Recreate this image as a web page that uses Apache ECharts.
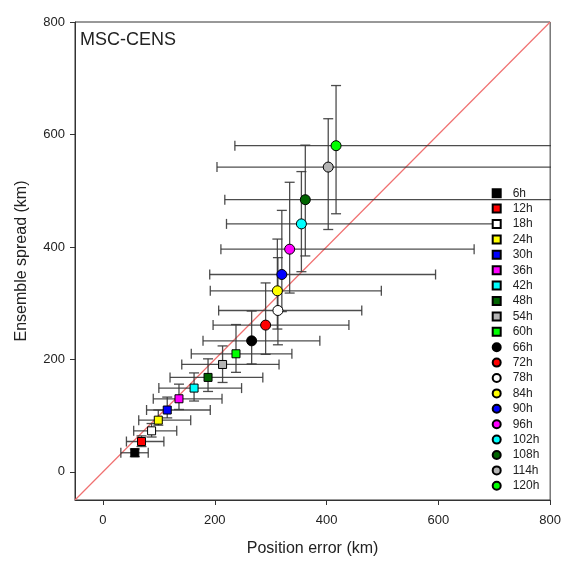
<!DOCTYPE html>
<html>
<head>
<meta charset="utf-8">
<script src="https://cdn.jsdelivr.net/npm/echarts@6/dist/echarts.min.js"></script>
<style>html,body{margin:0;padding:0;background:#fff}#c{width:564px;height:563px}</style>
</head>
<body>
<div id="c"></div>
<script>
// ---- data ----
const hours = ['6h','12h','18h','24h','30h','36h','42h','48h','54h','60h','66h','72h','78h','84h','90h','96h','102h','108h','114h','120h'];
const posError = [57, 69, 87, 99, 115, 136, 163, 188, 214, 238, 266, 291, 313, 312, 320, 334, 355, 362, 403, 417];
const spread   = [34, 54, 73, 92, 110, 130, 149, 168, 191, 210, 233, 261, 287, 322, 351, 396, 441, 484, 542, 580];
const errLow   = [32, 42, 55, 64, 78, 90, 100, 120, 141, 158, 179, 197, 207, 192, 191, 211, 221, 218, 204, 236];
const errHigh  = [81, 109, 132, 157, 192, 213, 248, 286, 315, 338, 388, 440, 463, 498, 595, 664, 710, 860, 860, 860];
const sprLow   = [27, 45, 62, 83, 96, 111, 126, 143, 159, 177, 192, 209, 226, 254, 285, 318, 356, 384, 431, 459];
const sprHigh  = [41, 64, 86, 110, 133, 156, 176, 201, 224, 262, 286, 336, 381, 414, 465, 515, 534, 581, 628, 687];
const colors   = ['#000000','#ff0000','#ffffff','#ffff00','#0000ff','#ff00ff','#00ffff','#006400','#b4b4b4','#00ff00'];
const tickValues = [0, 200, 400, 600, 800];
const diagonal = [-50, 800];
const panelLabel = 'MSC-CENS';

const FONT = '"Liberation Sans", Arial, sans-serif';
const chart = echarts.init(document.getElementById('c'), null, {renderer: 'canvas'});

const errData = hours.map((h, i) => [posError[i], spread[i], errLow[i], errHigh[i], sprLow[i], sprHigh[i]]);

function renderErr(params, api) {
  const x = api.value(0), y = api.value(1);
  const pL = api.coord([api.value(2), y]);
  const pR = api.coord([api.value(3), y]);
  const pB = api.coord([x, api.value(4)]);
  const pT = api.coord([x, api.value(5)]);
  const c = 5;
  const st = {stroke: '#3a3a3a', lineWidth: 1.3, opacity: 0.9};
  const ln = (x1, y1, x2, y2) => ({type: 'line', shape: {x1, y1, x2, y2}, style: st});
  return {type: 'group', children: [
    ln(pL[0], pL[1], pR[0], pR[1]),
    ln(pL[0], pL[1] - c, pL[0], pL[1] + c),
    ln(pR[0], pR[1] - c, pR[0], pR[1] + c),
    ln(pB[0], pB[1], pT[0], pT[1]),
    ln(pB[0] - c, pB[1], pB[0] + c, pB[1]),
    ln(pT[0] - c, pT[1], pT[0] + c, pT[1])
  ]};
}

const series = [
  {
    type: 'line', name: 'diag', data: diagonal.map(v => [v, v]),
    symbol: 'none', silent: true, z: 1,
    lineStyle: {color: '#f07070', width: 1.2}
  },
  {
    type: 'custom', name: 'err', data: errData, renderItem: renderErr,
    encode: {x: 0, y: 1}, clip: true, silent: true, z: 2
  }
];
hours.forEach((h, i) => {
  const isSq = i < 10;
  series.push({
    type: 'scatter', name: h, data: [[posError[i], spread[i]]],
    symbol: isSq ? 'rect' : 'circle', symbolSize: isSq ? 8 : 10, z: 3,
    itemStyle: {color: colors[i % 10], borderColor: '#000', borderWidth: 1, opacity: 1}
  });
});

const axisCommon = {
  type: 'value', min: -50, max: 800,
  splitLine: {show: false},
  axisLine: {show: true, onZero: false, lineStyle: {color: '#333', width: 1}},
  axisTick: {show: true, inside: false, length: 5, customValues: tickValues, lineStyle: {color: '#333'}},
  axisLabel: {customValues: tickValues, color: '#222', fontSize: 13, fontFamily: FONT},
  nameLocation: 'middle',
  nameTextStyle: {color: '#222', fontSize: 16, fontFamily: FONT}
};

chart.setOption({
  animation: false,
  backgroundColor: '#fff',
  grid: {left: 75, right: 13, top: 22, bottom: 63, show: true, borderColor: '#333', borderWidth: 1, backgroundColor: 'transparent'},
  xAxis: Object.assign({}, axisCommon, {name: 'Position error (km)', nameGap: 41, axisLabel: Object.assign({}, axisCommon.axisLabel, {margin: 14})}),
  yAxis: Object.assign({}, axisCommon, {name: 'Ensemble spread (km)', nameGap: 45, axisLabel: Object.assign({}, axisCommon.axisLabel, {margin: 10})}),
  legend: {
    orient: 'vertical', left: 486.7, top: 180.5,
    itemWidth: 8, itemHeight: 8, itemGap: 0,
    data: hours.map((h, i) => ({name: h, icon: i < 10 ? 'rect' : 'circle'})),
    textStyle: {color: '#222', fontSize: 12, fontFamily: FONT, lineHeight: 15.4, padding: [0, 0, 0, 7]},
    selectedMode: false
  },
  graphic: [{
    type: 'text', left: 80, top: 31,
    style: {text: panelLabel, fontSize: 18, fontFamily: FONT, fill: '#222'}
  }],
  series: series
});
</script>
</body>
</html>
